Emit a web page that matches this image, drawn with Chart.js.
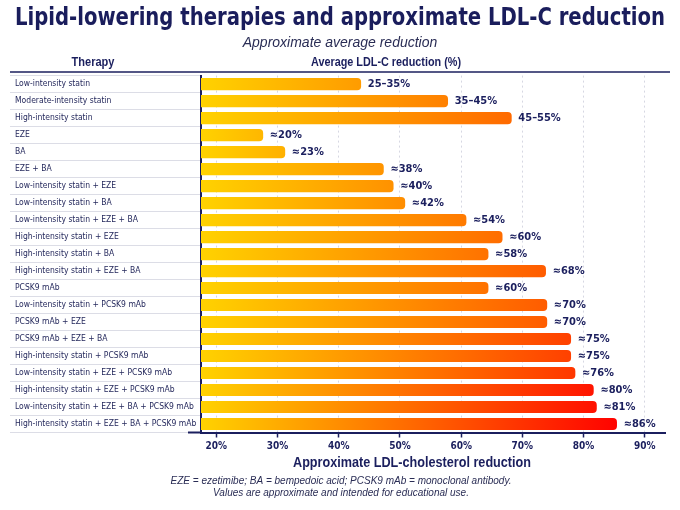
<!DOCTYPE html>
<html><head><meta charset="utf-8">
<script src="https://cdn.jsdelivr.net/npm/chart.js@4.4.1/dist/chart.umd.min.js"></script>
<style>html,body{margin:0;padding:0;background:#fff}#wrap{width:680px;height:510px}</style>
</head><body><div id="wrap"><canvas id="c" width="680" height="510"></canvas></div>
<script>
const therapies = [
  'Low-intensity statin','Moderate-intensity statin','High-intensity statin','EZE','BA','EZE + BA',
  'Low-intensity statin + EZE','Low-intensity statin + BA','Low-intensity statin + EZE + BA',
  'High-intensity statin + EZE','High-intensity statin + BA','High-intensity statin + EZE + BA',
  'PCSK9 mAb','Low-intensity statin + PCSK9 mAb','PCSK9 mAb + EZE','PCSK9 mAb + EZE + BA',
  'High-intensity statin + PCSK9 mAb','Low-intensity statin + EZE + PCSK9 mAb',
  'High-intensity statin + EZE + PCSK9 mAb','Low-intensity statin + EZE + BA + PCSK9 mAb',
  'High-intensity statin + EZE + BA + PCSK9 mAb'
];
const barValues = [43.6,57.8,68.2,27.6,31.2,47.3,48.9,50.8,60.8,66.7,64.4,73.8,64.4,74.0,74.0,77.9,77.9,78.6,81.6,82.1,85.4];
const valueLabels = ['25–35%','35–45%','45–55%','≈20%','≈23%','≈38%','≈40%','≈42%','≈54%','≈60%','≈58%','≈68%','≈60%','≈70%','≈70%','≈75%','≈75%','≈76%','≈80%','≈81%','≈86%'];
const tickValues = [20,30,40,50,60,70,80,90];
const tickLabels = ['20%','30%','40%','50%','60%','70%','80%','90%'];
const titleText = 'Lipid-lowering therapies and approximate LDL-C reduction';
const subtitleText = 'Approximate average reduction';
const headerLeft = 'Therapy';
const headerRight = 'Average LDL-C reduction (%)';
const xTitle = 'Approximate LDL-cholesterol reduction';
const footnotes = ['EZE = ezetimibe; BA = bempedoic acid; PCSK9 mAb = monoclonal antibody.','Values are approximate and intended for educational use.'];

const NAVY = '#1b1f5e';
const hueStops = [[20,46],[45,36],[58,30],[68,25],[75,21],[78,15],[80,8],[82,4],[86,0]];
function endHue(v){
  if (v <= hueStops[0][0]) return hueStops[0][1];
  for (let i=1;i<hueStops.length;i++){
    const [a,ha]=hueStops[i-1],[b,hb]=hueStops[i];
    if (v<=b) return ha+(hb-ha)*(v-a)/(b-a);
  }
  return 0;
}

const extras = {
  id:'extras',
  afterDatasetsDraw(chart){
    const ctx=chart.ctx, meta=chart.getDatasetMeta(0);
    ctx.save();
    ctx.fillStyle=NAVY;
    ctx.font='bold 11px "DejaVu Sans Condensed"';
    ctx.textBaseline='middle'; ctx.textAlign='left';
    meta.data.forEach((bar,i)=>{ ctx.fillText(valueLabels[i], bar.x+7, bar.y+0.5); });
    ctx.restore();
  },
  afterDraw(chart){
    const ctx=chart.ctx, a=chart.chartArea;
    ctx.save();
    ctx.strokeStyle=NAVY; ctx.lineWidth=1.5;
    ctx.beginPath(); ctx.moveTo(10,72); ctx.lineTo(670,72); ctx.stroke();
    ctx.lineWidth=2;
    ctx.beginPath(); ctx.moveTo(188,a.bottom); ctx.lineTo(a.left,a.bottom); ctx.stroke();
    ctx.fillStyle=NAVY; ctx.textAlign='center'; ctx.textBaseline='middle';
    ctx.font='bold 13px "Liberation Sans"';
    ctx.fillText(headerLeft, 93, 62, 43);
    ctx.fillText(headerRight, 386, 62, 150);
    ctx.font='bold 15.5px "Liberation Sans"';
    ctx.fillText(xTitle, 412, 463, 238);
    ctx.fillStyle='#2a2d55';
    ctx.font='italic 10px "Liberation Sans"';
    ctx.fillText(footnotes[0], 341, 481);
    ctx.fillText(footnotes[1], 341, 493);
    ctx.restore();
  }
};

new Chart(document.getElementById('c'), {
  type:'bar',
  data:{
    labels: therapies,
    datasets:[{
      data: barValues,
      barThickness: 11.5,
      borderRadius: 4,
      borderSkipped: 'start',
      backgroundColor: (c)=>{
        const chart=c.chart, area=chart.chartArea;
        if (!area || c.type!=='data') return '#FFA500';
        const v=c.raw, x1=chart.scales.x.getPixelForValue(v);
        const g=chart.ctx.createLinearGradient(area.left,0,x1,0);
        g.addColorStop(0,'#FFD200');
        g.addColorStop(1,'hsl('+endHue(v).toFixed(1)+',100%,50%)');
        return g;
      }
    }]
  },
  options:{
    indexAxis:'y',
    responsive:false,
    animation:false,
    layout:{padding:{left:15,right:15,top:0,bottom:57.5}},
    plugins:{
      legend:{display:false},
      tooltip:{enabled:false},
      title:{display:true,text:titleText,color:'#1a1d5c',align:'center',
        font:{family:'"DejaVu Sans Condensed"',weight:'bold',size:24,lineHeight:1.2},padding:{top:4,bottom:2}},
      subtitle:{display:true,text:subtitleText,color:'#2a2d55',
        font:{family:'"Liberation Sans"',style:'italic',size:14,lineHeight:1.2},padding:{top:0,bottom:24}}
    },
    scales:{
      x:{
        type:'linear', min:17.5, max:93.3, position:'bottom',
        afterBuildTicks:(s)=>{ s.ticks = tickValues.map(v=>({value:v})); },
        afterFit:(s)=>{ s.height=20; },
        ticks:{ callback:(v)=>tickLabels[tickValues.indexOf(v)], color:NAVY,
          font:{family:'"DejaVu Sans Condensed"',weight:'bold',size:10}, padding:3, maxRotation:0, autoSkip:false },
        grid:{ color:'#d6d7e2', lineWidth:1, tickLength:5, tickColor:NAVY, tickWidth:1.5 },
        border:{ color:NAVY, width:2, dash:[2,3] }
      },
      y:{
        type:'category', position:'left', offset:true,
        afterFit:(s)=>{ s.width=186; },
        grid:{ offset:true, drawOnChartArea:false, drawTicks:true, tickLength:191, tickColor:'#dcdde6', tickWidth:1 },
        border:{ display:true, color:NAVY, width:2 },
        ticks:{ crossAlign:'far', padding:0, autoSkip:false, color:'#1f2358',
          font:{family:'"DejaVu Sans Condensed"',size:8.5} }
      }
    }
  },
  plugins:[extras]
});
</script>
</body></html>
